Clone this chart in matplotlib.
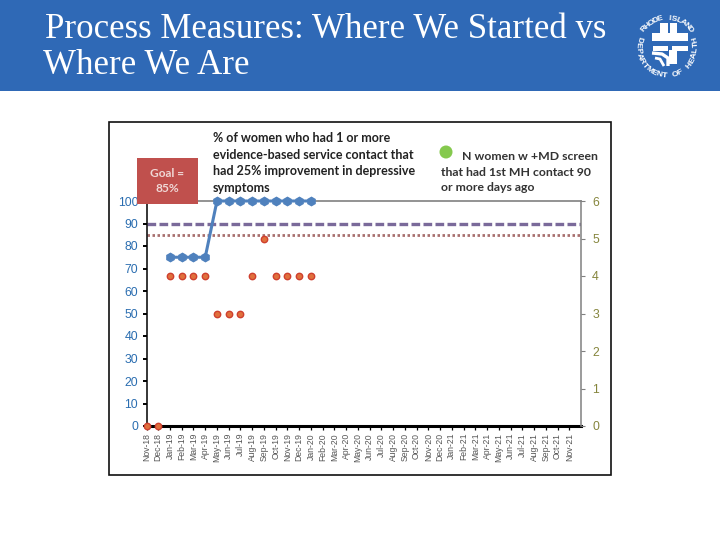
import numpy as np
import matplotlib
matplotlib.use("Agg")
import matplotlib.pyplot as plt
from matplotlib.patches import Rectangle, Circle

months = ["Nov-18", "Dec-18", "Jan-19", "Feb-19", "Mar-19", "Apr-19", "May-19", "Jun-19", "Jul-19",
          "Aug-19", "Sep-19", "Oct-19", "Nov-19", "Dec-19", "Jan-20", "Feb-20", "Mar-20", "Apr-20",
          "May-20", "Jun-20", "Jul-20", "Aug-20", "Sep-20", "Oct-20", "Nov-20", "Dec-20", "Jan-21",
          "Feb-21", "Mar-21", "Apr-21", "May-21", "Jun-21", "Jul-21", "Aug-21", "Sep-21", "Oct-21", "Nov-21"]
pct_idx = [2, 3, 4, 5, 6, 7, 8, 9, 10, 11, 12, 13, 14]
pct_vals = [75, 75, 75, 75, 100, 100, 100, 100, 100, 100, 100, 100, 100]
n_idx = [0, 1, 2, 3, 4, 5, 6, 7, 8, 9, 10, 11, 12, 13, 14]
n_vals = [0, 0, 4, 4, 4, 4, 3, 3, 3, 4, 5, 4, 4, 4, 4]
goal = 85
target = 90

W, H = 720.0, 540.0
fig = plt.figure(figsize=(7.2, 5.4), dpi=100, facecolor="white")

#background layer in pixel coordinates: header band and chart frame
bg = fig.add_axes([0, 0, 1, 1], zorder=-1)
bg.set_xlim(0, W)
bg.set_ylim(H, 0)
bg.axis("off")
bg.add_patch(Rectangle((0, 0), 720, 91, fc="#2f69b6", ec="none"))
bg.add_patch(Rectangle((108.5, 122), 502.5, 353, fc="white", ec="#111111", lw=1.2))

#main axes
ax = fig.add_axes([146.5 / W, 1 - 426 / H, 434.5 / W, 225 / H], zorder=1)
ax.set_xlim(0, 37)
ax.set_ylim(0, 100)
ax.set_yticks(np.arange(0, 101, 10))
ax.set_yticklabels([str(v) for v in range(0, 101, 10)], family="Liberation Sans")
ax.tick_params(axis="y", labelsize=8.8, labelcolor="#2a6db0", color="black", width=1.4, length=3, pad=3)
ax.set_xticks(np.arange(len(months)))
ax.set_xticklabels(months, rotation=90, fontsize=6.2, color="#555555", family="Liberation Sans")
ax.tick_params(axis="x", color="black", width=0.9, length=3, pad=2)
ax.spines["left"].set_linewidth(1.1)
ax.spines["bottom"].set_linewidth(2.2)
ax.spines["right"].set_visible(False)
ax.spines["top"].set_color("#808080")
ax.spines["top"].set_linewidth(1.2)

ax.axhline(target, color="#7a6a9a", lw=2.4, ls=(0, (2.6, 1)), zorder=2)
ax.axhline(goal, color="#a8706f", lw=2, ls=(0, (0.9, 0.9)), zorder=2)
ax.plot(pct_idx, pct_vals, color="#4f81bd", lw=2.2, marker="h", ms=6, mfc="#4f81bd", mec="#4f81bd",
        clip_on=False, zorder=3)

#right axis
ax2 = ax.twinx()
ax2.set_ylim(0, 6)
ax2.set_yticks(np.arange(0, 7))
ax2.set_yticklabels([str(v) for v in range(7)], family="Liberation Sans")
ax2.tick_params(axis="y", labelsize=8.8, labelcolor="#85853c", color="#808080", width=0.8, length=3, pad=5)
for s in ["left", "top", "bottom"]:
    ax2.spines[s].set_visible(False)
ax2.spines["right"].set_color("#808080")
ax2.spines["right"].set_linewidth(1.1)
ax2.plot(n_idx, n_vals, ls="none", marker="o", ms=4.6, mfc="#e0703c", mec="#cf3f2e", mew=1,
         clip_on=False, zorder=4)

#annotation layer on top
top = fig.add_axes([0, 0, 1, 1], zorder=10)
top.set_xlim(0, W)
top.set_ylim(H, 0)
top.axis("off")
top.patch.set_alpha(0)
top.add_patch(Rectangle((137, 158), 61, 46, fc="#c0504d", ec="none"))
top.text(167.5, 181, "Goal =\n85%", color="#f0d8d6", fontsize=8.6, fontweight="bold", family="Lato",
         ha="center", va="center", linespacing=1.35)
top.text(213, 163, "% of women who had 1 or more\nevidence-based service contact that\nhad 25% improvement in depressive\nsymptoms",
         color="#222222", fontsize=9, fontweight="bold", family="Lato", ha="left", va="center", linespacing=1.45)
top.add_patch(Circle((446, 152), 6.5, fc="#85c94e", ec="none"))
top.text(441, 172, "       N women w +MD screen\nthat had 1st MH contact 90\nor more days ago",
         color="#333333", fontsize=8.8, family="Lato", fontweight="bold", ha="left", va="center", linespacing=1.45)

#header title
top.text(45, 29, "Process Measures: Where We Started vs", color="white", fontsize=25.1,
         family="Liberation Serif", ha="left", va="center")
top.text(43, 65, "Where We Are", color="white", fontsize=25.1,
         family="Liberation Serif", ha="left", va="center")

#logo, letters set round a circle
cx, cy, r = 667, 47, 29
ring_top = "RHODE ISLAND"
ring_bot = "DEPARTMENT OF HEALTH"
for i, c in enumerate(ring_top):
    a = np.radians(-52 + i * 104 / (len(ring_top) - 1))
    top.text(cx + r * np.sin(a), cy - r * np.cos(a), c, color="white", fontsize=6, fontweight="bold",
             rotation=-np.degrees(a), ha="center", va="center", family="Liberation Sans")
for i, c in enumerate(ring_bot):
    a = np.radians(-105 + i * 210 / (len(ring_bot) - 1))
    top.text(cx + r * np.sin(a), cy + r * np.cos(a), c, color="white", fontsize=6, fontweight="bold",
             rotation=np.degrees(a), ha="center", va="center", family="Liberation Sans")
for x0, y0, w, h in [(660, 23, 8, 11), (670, 23, 7, 11), (652, 33, 36, 8), (653, 46, 15, 5),
                     (672, 46, 16, 5), (669, 50, 8, 14)]:
    top.add_patch(Rectangle((x0, y0), w, h, fc="white", ec="none"))
top.plot([652, 662, 668, 668], [53, 54, 58, 66], color="white", lw=2.4, solid_capstyle="butt")
top.plot([655, 660, 664], [58, 59, 66], color="white", lw=2, solid_capstyle="butt")

fig.savefig("out.png", dpi=100)
